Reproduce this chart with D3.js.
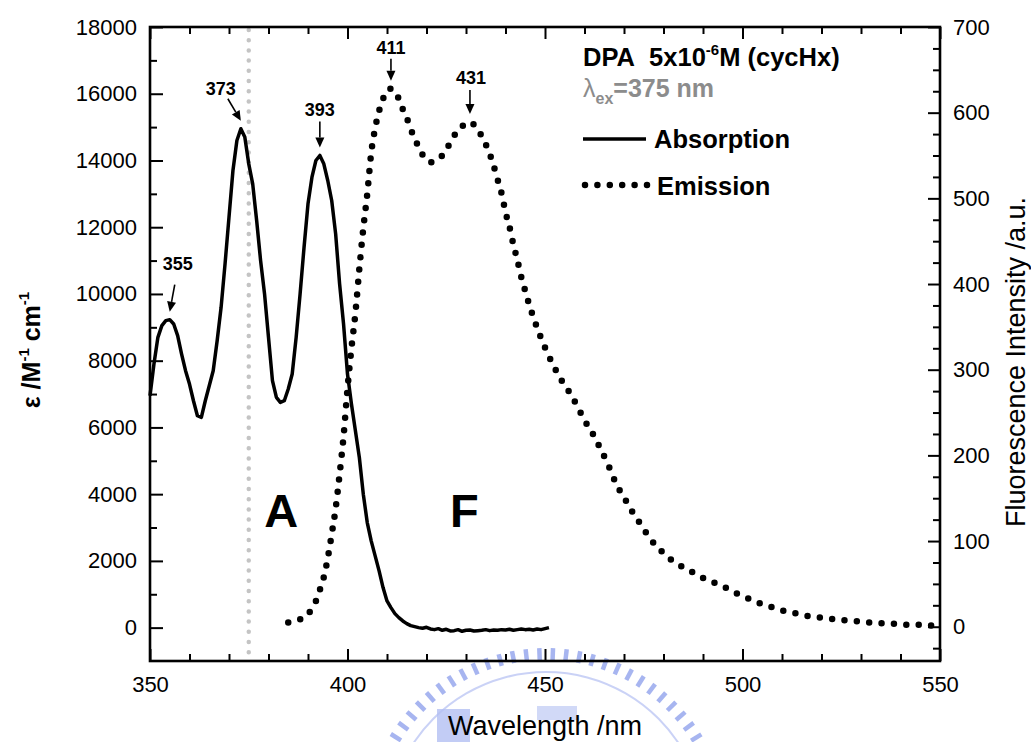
<!DOCTYPE html>
<html>
<head>
<meta charset="utf-8">
<script src="https://cdn.jsdelivr.net/npm/d3@7"></script>
<style>
  body { margin: 0; background: #fff; }
  svg { display: block; font-family: "Liberation Sans", Arial, sans-serif; }
</style>
</head>
<body>
<div id="chart"></div>
<script>
// absorption spectrum, epsilon /M-1 cm-1 read every 1 nm
const absNm = [350, 351, 352, 353, 354, 355, 356, 357, 358, 359, 360, 361, 362, 363, 364, 365, 366, 367, 368, 369,
    370, 371, 372, 373, 374, 375, 376, 377, 378, 379, 380, 381, 382, 383, 384, 385, 386, 387, 388, 389,
    390, 391, 392, 393, 394, 395, 396, 397, 398, 399, 400, 401, 402, 403, 404, 405, 406, 407, 408, 409,
    410, 411, 412, 413, 414, 415, 416, 417, 418, 419, 420, 421, 422, 423, 424, 425, 426, 427, 428, 429,
    430, 431, 432, 433, 434, 435, 436, 437, 438, 439, 440, 441, 442, 443, 444, 445, 446, 447, 448, 449,
    450, 451]
const absEps = [6950, 7900, 8700, 9050, 9200, 9230, 9100, 8750, 8200, 7700, 7300, 6800, 6350, 6300, 6800, 7250, 7700, 8600, 9600, 10900,
    12300, 13700, 14600, 14950, 14700, 13900, 13300, 12200, 11000, 10000, 8700, 7400, 6900, 6750, 6800, 7150, 7600, 8700, 10000, 11400,
    12700, 13500, 14000, 14150, 13900, 13400, 12800, 11800, 10300, 9100, 7600, 6700, 5900, 5100, 4000, 3150, 2600, 2150, 1700, 1200,
    800, 600, 420, 300, 200, 120, 60, 30, 0, -20, 10, -40, -60, -30, -80, -50, -100, -90, -60, -110,
    -80, -70, -100, -90, -80, -60, -90, -70, -80, -60, -70, -50, -80, -60, -40, -60, -50, -70, -40, -60,
    -30, 0]

// emission spectrum (excitation 375 nm), intensity /a.u.
const emNm = [385, 387, 389, 390, 391, 392, 393, 394, 395, 396, 397, 398, 399, 400, 401, 402, 403, 404, 405, 406,
    407, 408, 409, 410, 411, 412, 413, 414, 415, 416, 417, 418, 419, 420, 421, 422, 423, 424, 425, 426,
    427, 428, 429, 430, 431, 432, 433, 434, 435, 436, 437, 438, 439, 440, 441, 442, 443, 444, 445, 446,
    447, 448, 449, 450, 452, 454, 456, 458, 460, 462, 464, 466, 468, 470, 472, 474, 476, 478, 480, 482,
    484, 486, 488, 490, 492, 494, 496, 498, 500, 502, 504, 506, 508, 510, 512, 514, 516, 518, 520, 522,
    524, 526, 528, 530, 532, 534, 536, 538, 540, 542, 544, 546, 548, 549]
const emInt = [5, 7, 11, 15, 21, 30, 43, 58, 80, 108, 138, 178, 222, 278, 325, 366, 418, 465, 505, 553,
    582, 602, 616, 626, 628, 625, 616, 604, 594, 581, 570, 560, 551, 545, 542, 543, 546, 550, 557, 565,
    573, 580, 584, 588, 589, 586, 581, 572, 563, 552, 538, 522, 506, 484, 467, 446, 428, 408, 392, 376,
    362, 349, 337, 326, 306, 289, 275, 259, 241, 226, 208, 189, 167, 151, 135, 121, 107, 95, 86, 78,
    72, 67, 62, 57, 53, 49, 45, 40, 36, 32, 28, 25, 22, 19, 17, 15, 13, 11.5, 10.5, 9.5,
    8.5, 7.4, 6.6, 6, 5, 4.4, 3.8, 3.5, 3, 2.3, 2.3, 2, 1.5, 1.5]

// axis ticks
const xTicks = [350, 400, 450, 500, 550]
const epsTicks = [0, 2000, 4000, 6000, 8000, 10000, 12000, 14000, 16000, 18000]
const flTicks = [0, 100, 200, 300, 400, 500, 600, 700]

// labelled peaks
const peakNm = [355, 373, 393, 411, 431]
const peakSeries = ["abs", "abs", "abs", "em", "em"]
const exNm = 375

const W = 1031, H = 742
const plot = { left: 150, right: 940, top: 27, bottom: 661 }

const svg = d3.select("#chart").append("svg")
    .attr("width", W)
    .attr("height", H)

// scales
const x = d3.scaleLinear().domain([350, 550]).range([plot.left, plot.right])
const yEps = d3.scaleLinear().domain([-1000, 18000]).range([plot.bottom, plot.top])
const yFl = d3.scaleLinear().domain([-40, 700]).range([plot.bottom, plot.top])

// faint watermark behind the x title
const wm = svg.append("g").attr("fill", "#b3bff2").attr("stroke", "#a7b5f0")
const wmC = [546, 831]
d3.range(-58, 59, 4.3).forEach(a => {
    const r = a * Math.PI / 180
    wm.append("line")
        .attr("x1", wmC[0] + 171 * Math.sin(r)).attr("y1", wmC[1] - 171 * Math.cos(r))
        .attr("x2", wmC[0] + 183 * Math.sin(r)).attr("y2", wmC[1] - 183 * Math.cos(r))
        .attr("stroke-width", 4.5)
})
wm.append("path")
    .attr("d", d3.arc().innerRadius(158).outerRadius(160).startAngle(-1.05).endAngle(1.05)())
    .attr("transform", `translate(${wmC})`)
    .attr("stroke", "none")
    .attr("opacity", 0.7)
wm.append("rect").attr("x", 437).attr("y", 709).attr("width", 33).attr("height", 33)
    .attr("stroke", "none").attr("opacity", 0.8)
wm.append("path").attr("d", "M537,706 L577,706 L577,720 L537,720 Z")
    .attr("stroke", "none").attr("opacity", 0.6)

// excitation wavelength marker
svg.append("line")
    .attr("x1", x(exNm)).attr("x2", x(exNm))
    .attr("y1", plot.top + 3).attr("y2", plot.bottom)
    .attr("stroke", "#c4c4c4")
    .attr("stroke-width", 4.5)
    .attr("stroke-linecap", "round")
    .attr("stroke-dasharray", "0,10.2")

// absorption curve
const absData = absNm.map((d, i) => ({ nm: d, v: absEps[i] }))
const absLine = d3.line()
    .x(d => x(d.nm))
    .y(d => yEps(d.v))
svg.append("path")
    .datum(absData)
    .attr("fill", "none")
    .attr("stroke", "#000")
    .attr("stroke-width", 3.5)
    .attr("stroke-linejoin", "round")
    .attr("d", absLine)

// emission curve, drawn as round dots
const emData = emNm.map((d, i) => ({ nm: d, v: emInt[i] }))
const emLine = d3.line()
    .x(d => x(d.nm))
    .y(d => yFl(d.v))
    .curve(d3.curveMonotoneX)
svg.append("path")
    .datum(emData)
    .attr("fill", "none")
    .attr("stroke", "#000")
    .attr("stroke-width", 6.5)
    .attr("stroke-linecap", "round")
    .attr("stroke-dasharray", "0,12.4")
    .attr("d", emLine)

// frame
svg.append("rect")
    .attr("x", plot.left).attr("y", plot.top)
    .attr("width", plot.right - plot.left)
    .attr("height", plot.bottom - plot.top)
    .attr("fill", "none")
    .attr("stroke", "#000")
    .attr("stroke-width", 2.6)

const minorX = d3.range(360, 550, 10).filter(d => d % 50 !== 0)
const minorEps = d3.range(1000, 18000, 2000)
const minorFl = d3.range(-25, 700, 25).filter(d => d % 100 !== 0)

function styleAxis(g) {
    g.select(".domain").remove()
    g.selectAll(".tick line").attr("stroke-width", 2)
    g.selectAll("text")
        .attr("font-family", "Liberation Sans, Arial, sans-serif")
        .attr("font-size", 22)
        .attr("fill", "#000")
}

// bottom axis
svg.append("g")
    .attr("transform", `translate(0,${plot.bottom})`)
    .call(d3.axisBottom(x).tickValues(xTicks).tickSizeInner(-12).tickSizeOuter(0).tickPadding(15))
    .call(styleAxis)
svg.append("g")
    .attr("transform", `translate(0,${plot.bottom})`)
    .call(d3.axisBottom(x).tickValues(minorX).tickSizeInner(-7).tickSizeOuter(0).tickFormat(""))
    .call(styleAxis)

// top axis, ticks only
svg.append("g")
    .attr("transform", `translate(0,${plot.top})`)
    .call(d3.axisTop(x).tickValues(xTicks).tickSizeInner(-12).tickSizeOuter(0).tickFormat(""))
    .call(styleAxis)
svg.append("g")
    .attr("transform", `translate(0,${plot.top})`)
    .call(d3.axisTop(x).tickValues(minorX).tickSizeInner(-7).tickSizeOuter(0).tickFormat(""))
    .call(styleAxis)

// left axis (epsilon)
svg.append("g")
    .attr("transform", `translate(${plot.left},0)`)
    .call(d3.axisLeft(yEps).tickValues(epsTicks).tickFormat(d3.format("d"))
        .tickSizeInner(-13).tickSizeOuter(0).tickPadding(13))
    .call(styleAxis)
svg.append("g")
    .attr("transform", `translate(${plot.left},0)`)
    .call(d3.axisLeft(yEps).tickValues(minorEps).tickSizeInner(-7).tickSizeOuter(0).tickFormat(""))
    .call(styleAxis)

// right axis (fluorescence)
svg.append("g")
    .attr("transform", `translate(${plot.right},0)`)
    .call(d3.axisRight(yFl).tickValues(flTicks).tickSizeInner(-12).tickSizeOuter(0).tickPadding(13))
    .call(styleAxis)
svg.append("g")
    .attr("transform", `translate(${plot.right},0)`)
    .call(d3.axisRight(yFl).tickValues(minorFl).tickSizeInner(-7).tickSizeOuter(0).tickFormat(""))
    .call(styleAxis)

// axis titles
svg.append("text")
    .attr("x", 545).attr("y", 735)
    .attr("text-anchor", "middle")
    .attr("font-size", 27)
    .text("Wavelength /nm")

svg.append("text")
    .attr("transform", "translate(1025,362) rotate(-90)")
    .attr("text-anchor", "middle")
    .attr("font-size", 27)
    .text("Fluorescence Intensity /a.u.")

const epsTitle = svg.append("text")
    .attr("transform", "translate(40,350) rotate(-90)")
    .attr("text-anchor", "middle")
    .attr("font-size", 25)
    .attr("font-weight", "bold")
epsTitle.append("tspan").text("ε /M")
epsTitle.append("tspan").attr("font-size", 15).attr("dy", -11).text("-1")
epsTitle.append("tspan").attr("dy", 11).text(" cm")
epsTitle.append("tspan").attr("font-size", 15).attr("dy", -11).text("-1")

// peak labels with arrows
const arrowDir = { 355: [5, -27], 373: [-13, -22], 393: [0, -26], 411: [0, -22], 431: [0, -24] }
const labelGap = { 355: [3, -15], 373: [-7, -4], 393: [0, -5], 411: [0, -5], 431: [1, -6] }

function arrow(x0, y0, x1, y1) {
    const a = Math.atan2(y1 - y0, x1 - x0)
    const L = 10, hw = 4.5
    const bx = x1 - L * Math.cos(a), by = y1 - L * Math.sin(a)
    svg.append("line")
        .attr("x1", x0).attr("y1", y0).attr("x2", bx).attr("y2", by)
        .attr("stroke", "#000").attr("stroke-width", 1.6)
    svg.append("path")
        .attr("d", `M${x1},${y1} L${bx + hw * Math.sin(a)},${by - hw * Math.cos(a)} L${bx - hw * Math.sin(a)},${by + hw * Math.cos(a)} Z`)
        .attr("fill", "#000")
}

peakNm.forEach((nm, i) => {
    const isAbs = peakSeries[i] === "abs"
    const v = isAbs ? absEps[absNm.indexOf(nm)] : emInt[emNm.indexOf(nm)]
    const px = x(nm)
    const py = isAbs ? yEps(v) : yFl(v)
    const tip = [px, py - 8]
    const start = [tip[0] + arrowDir[nm][0], tip[1] + arrowDir[nm][1]]
    arrow(start[0], start[1], tip[0], tip[1])
    svg.append("text")
        .attr("x", start[0] + labelGap[nm][0])
        .attr("y", start[1] + labelGap[nm][1])
        .attr("text-anchor", "middle")
        .attr("font-size", 18)
        .attr("font-weight", "bold")
        .text(nm)
})

// region letters
svg.append("text")
    .attr("x", x(383.2)).attr("y", yEps(3020))
    .attr("text-anchor", "middle")
    .attr("font-size", 47)
    .attr("font-weight", "bold")
    .text("A")
svg.append("text")
    .attr("x", x(429.6)).attr("y", yEps(3020))
    .attr("text-anchor", "middle")
    .attr("font-size", 47)
    .attr("font-weight", "bold")
    .text("F")

// legend
const lx = 583
const t1 = svg.append("text").attr("x", lx).attr("y", 66)
    .attr("font-size", 25.5).attr("font-weight", "bold")
t1.append("tspan").text("DPA\u00a0\u00a05x10")
t1.append("tspan").attr("font-size", 15).attr("dy", -11).text("-6")
t1.append("tspan").attr("dy", 11).text("M (cycHx)")

const t2 = svg.append("text").attr("x", lx).attr("y", 97)
    .attr("font-size", 25).attr("font-weight", "bold").attr("fill", "#8c8c8c")
t2.append("tspan").attr("font-weight", "normal").text("λ")
t2.append("tspan").attr("font-size", 16).attr("dy", 7).text("ex")
t2.append("tspan").attr("dy", -7).text("=375 nm")

svg.append("line")
    .attr("x1", lx).attr("x2", 646).attr("y1", 139).attr("y2", 139)
    .attr("stroke", "#000").attr("stroke-width", 3.5)
svg.append("text").attr("x", 654).attr("y", 148)
    .attr("font-size", 25.5).attr("font-weight", "bold")
    .text("Absorption")

svg.append("line")
    .attr("x1", lx + 2).attr("x2", 649).attr("y1", 185).attr("y2", 185)
    .attr("stroke", "#000").attr("stroke-width", 6.5)
    .attr("stroke-linecap", "round")
    .attr("stroke-dasharray", "0,12.4")
svg.append("text").attr("x", 657).attr("y", 195)
    .attr("font-size", 25.5).attr("font-weight", "bold")
    .text("Emission")
</script>
</body>
</html>
